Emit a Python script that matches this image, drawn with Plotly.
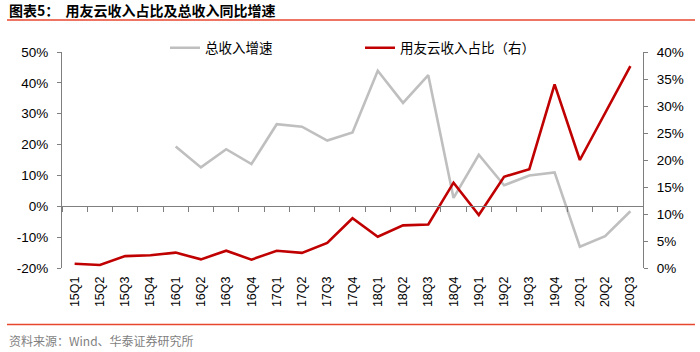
import plotly.graph_objects as go

categories = ["15Q1","15Q2","15Q3","15Q4","16Q1","16Q2","16Q3","16Q4",
              "17Q1","17Q2","17Q3","17Q4","18Q1","18Q2","18Q3","18Q4",
              "19Q1","19Q2","19Q3","19Q4","20Q1","20Q2","20Q3"]
total_growth = [None, None, None, None, 19.4, 12.6, 18.5, 13.7,
                26.6, 25.8, 21.3, 23.9, 43.9, 33.5, 42.5, 2.7,
                16.7, 6.8, 10.0, 11.0, -13.1, -9.7, -1.6]
cloud_share = [0.8, 0.56, 2.2, 2.35, 2.85, 1.6, 3.2, 1.55,
               3.2, 2.8, 4.65, 9.2, 5.8, 7.9, 8.05, 15.8,
               9.8, 16.9, 18.3, 34.0, 20.0, 28.6, 37.4]
left_ticks = [-20, -10, 0, 10, 20, 30, 40, 50]
right_ticks = [0, 5, 10, 15, 20, 25, 30, 35, 40]

name_growth = "总收入增速"
name_share = "用友云收入占比（右）"
title_text = "图表5：  用友云收入占比及总收入同比增速"
source_text = "资料来源：Wind、华泰证券研究所"

latin = "Liberation Sans, Arial, sans-serif"
cjk = "Noto Sans CJK SC, sans-serif"
axis_col = "#7f7f7f"

fig = go.Figure()
fig.add_trace(go.Scatter(x=categories, y=total_growth, name=name_growth,
                         mode="lines", line=dict(color="#bfbfbf", width=2.6),
                         xaxis="x", yaxis="y", connectgaps=False))
fig.add_trace(go.Scatter(x=categories, y=cloud_share, name=name_share,
                         mode="lines", line=dict(color="#c00000", width=2.6),
                         xaxis="x2", yaxis="y2"))

L, R, T, B = 62, 57, 52, 84
W, H = 700, 352
pw, ph = W - L - R, H - T - B
def px(x):
    return (x - L) / pw
def py(y):
    return (H - B - y) / ph

fig.update_layout(
    width=W, height=H,
    margin=dict(l=L, r=R, t=T, b=B),
    paper_bgcolor="white", plot_bgcolor="white",
    font=dict(family=latin, size=13, color="#000000"),
    showlegend=True,
    legend=dict(orientation="h", x=px(165), y=py(48), xanchor="left", yanchor="middle",
                font=dict(family=cjk, size=13.5, color="#000000"),
                entrywidth=150, entrywidthmode="pixels",
                bgcolor="rgba(0,0,0,0)", tracegroupgap=0),
    xaxis=dict(type="category", categoryorder="array", categoryarray=categories,
               showline=False, ticks="", showgrid=False, zeroline=False,
               tickangle=-90, tickfont=dict(family=latin, size=12.5),
               ticklabelstandoff=5,
               anchor="y", range=[-0.5, len(categories) - 0.5]),
    xaxis2=dict(type="category", categoryorder="array", categoryarray=categories,
                overlaying="x", anchor="free", position=20/70,
                showline=True, linecolor=axis_col, linewidth=1,
                ticks="outside", ticklen=5, tickcolor=axis_col, tickson="boundaries",
                showticklabels=False, showgrid=False, zeroline=False,
                range=[-0.5, len(categories) - 0.5]),
    yaxis=dict(range=[-20, 50], tickvals=left_ticks,
               ticktext=[f"{v}%" for v in left_ticks],
               showline=True, linecolor=axis_col, linewidth=1,
               ticks="outside", ticklen=4, tickcolor=axis_col,
               showgrid=False, zeroline=False, ticklabelstandoff=6,
               tickfont=dict(family=latin, size=13.5)),
    yaxis2=dict(range=[0, 40], tickvals=right_ticks,
                ticktext=[f"{v}%" for v in right_ticks],
                overlaying="y", side="right", anchor="free", position=1,
                showline=True, linecolor=axis_col, linewidth=1,
                ticks="outside", ticklen=4, tickcolor=axis_col,
                showgrid=False, zeroline=False, ticklabelstandoff=6,
                tickfont=dict(family=latin, size=13.5)),
    shapes=[
        dict(type="line", xref="paper", yref="paper", x0=px(7), x1=px(695),
             y0=py(20), y1=py(20), line=dict(color="#e8472f", width=1.5)),
        dict(type="line", xref="paper", yref="paper", x0=px(7), x1=px(695),
             y0=py(324.5), y1=py(324.5), line=dict(color="#e8472f", width=1.5)),
    ],
    annotations=[
        dict(text="<b>" + title_text + "</b>", xref="paper", yref="paper",
             x=px(7), y=py(10), xanchor="left", yanchor="middle", showarrow=False,
             font=dict(family=cjk, size=14, color="#000000")),
        dict(text=source_text, xref="paper", yref="paper",
             x=px(7), y=py(340), xanchor="left", yanchor="middle", showarrow=False,
             font=dict(family=cjk, size=12, color="#7f7f7f")),
    ],
)

fig.write_html("out.html")
